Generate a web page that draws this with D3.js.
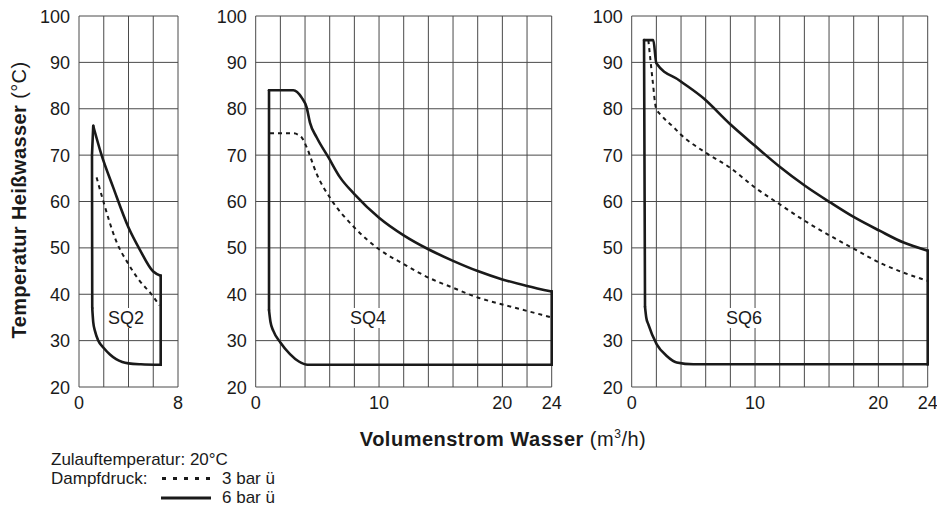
<!DOCTYPE html>
<html>
<head>
<meta charset="utf-8">
<script src="https://cdn.jsdelivr.net/npm/d3@7"></script>
<style>
  body { margin: 0; background: #fff; }
  svg { display: block; font-family: "Liberation Sans", Arial, sans-serif; }
</style>
</head>
<body>
<div id="chart"></div>
<script>
// panel names and axis ranges
var panelNames = ["SQ2", "SQ4", "SQ6"];
var xMax = [8, 24, 24];
var xTickLabels = [[0, 8], [0, 10, 20, 24], [0, 10, 20, 24]];
var yTickLabels = [20, 30, 40, 50, 60, 70, 80, 90, 100];

// left edge of the working range (straight), [m3/h, °C]
var sq2Left = [[1.15, 76.3], [1.05, 70], [1.07, 37]];
var sq4Left = [[1.08, 84], [1.08, 36.6]];
var sq6Left = [[1.0, 94.8], [1.08, 37.3]];

// bottom boundary (curve)
var sq2Bottom = [[1.07, 37], [1.15, 34], [1.3, 32], [1.56, 30], [2.0, 28.4], [2.5, 27], [3.0, 26], [3.5, 25.4], [4.0, 25.1], [5.0, 24.9], [6.6, 24.8]];
var sq4Bottom = [[1.08, 36.6], [1.2, 34], [1.43, 32.1], [2.0, 29.6], [2.78, 27.1], [3.5, 25.5], [4.2, 24.8], [24, 24.8]];
var sq6Bottom = [[1.08, 37.3], [1.18, 35], [1.35, 33.5], [2.03, 29.2], [2.84, 26.7], [3.65, 25.3], [5.0, 24.9], [24, 24.9]];

// 6 bar ü (upper boundary)
var sq2Bar6 = [[1.15, 76.3], [1.8, 70.2], [2.77, 63], [4.0, 54.4], [4.9, 49.7], [6.0, 44.9], [6.6, 44]];
var sq4Bar6 = [[1.08, 84], [3.05, 84], [3.73, 82.4], [4.13, 80.3], [4.4, 77], [4.95, 73.8], [5.9, 69.5], [6.84, 65.2], [8, 61.6], [10, 56.5], [12, 52.7], [14, 49.7], [16, 47.2], [18, 45], [20, 43.2], [22, 41.8], [24, 40.6]];
var sq6Bar6 = [[1.0, 94.8], [1.75, 94.8], [2.0, 89.8], [3.9, 86.05], [5.8, 82.3], [7.97, 76.7], [10, 72.0], [12, 67.5], [14.05, 63.4], [16.1, 59.8], [18.1, 56.5], [20.1, 53.7], [22, 51.2], [24, 49.4]];

// 3 bar ü (dashed)
var sq2Bar3 = [[1.42, 65.2], [1.96, 60.1], [3.0, 51.5], [4.0, 46.5], [4.9, 42.9], [5.85, 40], [6.5, 37.6]];
var sq4Bar3 = [[1.16, 74.7], [3.05, 74.7], [3.73, 73.8], [4.13, 71.7], [4.95, 65.9], [6.0, 60.9], [8, 54.4], [10, 49.7], [12, 46.5], [14, 43.6], [16, 41.4], [18, 39.3], [20, 37.8], [22, 36.4], [24, 35.0]];
var sq6Bar3 = [[1.35, 94.8], [1.5, 91], [1.7, 86], [1.97, 80.2], [2.43, 78.5], [3.37, 76.1], [3.92, 74.6], [5.95, 70.6], [7.97, 67.3], [10, 63.0], [12, 59.4], [14.05, 55.8], [16.1, 52.6], [18.1, 49.7], [20.1, 46.8], [22, 44.7], [24, 42.9]];

var lefts = [sq2Left, sq4Left, sq6Left];
var bottoms = [sq2Bottom, sq4Bottom, sq6Bottom];
var bar6s = [sq2Bar6, sq4Bar6, sq6Bar6];
var bar3s = [sq2Bar3, sq4Bar3, sq6Bar3];

var width = 937, height = 506;
var plotTop = 16, plotBottom = 387;
var panelLeft = [79, 255.7, 631.7];
var panelRight = [178, 551.7, 927.7];
var gridColor = "#4a4a4a";
var ink = "#1a1a1a";

var svg = d3.select("#chart").append("svg")
  .attr("width", width)
  .attr("height", height);

var y = d3.scaleLinear().domain([20, 100]).range([plotBottom, plotTop]);

panelNames.forEach(function(name, i) {
  var x = d3.scaleLinear().domain([0, xMax[i]]).range([panelLeft[i], panelRight[i]]);
  var g = svg.append("g");

  // grid
  var xGrid = d3.range(0, xMax[i] + 1, 2);
  g.selectAll(".vx").data(xGrid).enter().append("line")
    .attr("x1", d => x(d)).attr("x2", d => x(d))
    .attr("y1", plotTop).attr("y2", plotBottom)
    .attr("stroke", gridColor).attr("stroke-width", 1);
  g.selectAll(".hy").data(yTickLabels).enter().append("line")
    .attr("x1", panelLeft[i]).attr("x2", panelRight[i])
    .attr("y1", d => y(d)).attr("y2", d => y(d))
    .attr("stroke", gridColor).attr("stroke-width", 1);

  // tick labels
  g.selectAll(".yl").data(yTickLabels).enter().append("text")
    .attr("x", panelLeft[i] - 9).attr("y", d => y(d) + 6.5)
    .attr("text-anchor", "end").attr("font-size", 18).attr("fill", ink)
    .text(d => d);
  g.selectAll(".xl").data(xTickLabels[i]).enter().append("text")
    .attr("x", d => x(d)).attr("y", 409)
    .attr("text-anchor", "middle").attr("font-size", 18).attr("fill", ink)
    .text(d => d);

  // panel label with white background
  var lx = x(xMax[i] == 8 ? 3.8 : 9.1);
  var lab = g.append("text")
    .attr("x", lx).attr("y", 324)
    .attr("text-anchor", "middle").attr("font-size", 18).attr("fill", ink)
    .text(name);
  var bb = lab.node().getBBox();
  g.insert("rect", "text")
    .attr("x", bb.x - 2).attr("y", bb.y).attr("width", bb.width + 4).attr("height", bb.height)
    .attr("fill", "#fff");

  var curve = d3.line().x(d => x(d[0])).y(d => y(d[1])).curve(d3.curveMonotoneX);
  var straight = d3.line().x(d => x(d[0])).y(d => y(d[1]));

  var bot = bottoms[i], up = bar6s[i];
  g.append("path").attr("d", straight(lefts[i]))
    .attr("fill", "none").attr("stroke", ink).attr("stroke-width", 2.6)
    .attr("stroke-linejoin", "round").attr("stroke-linecap", "round");
  g.append("path").attr("d", curve(bot))
    .attr("fill", "none").attr("stroke", ink).attr("stroke-width", 2.6)
    .attr("stroke-linecap", "round");
  g.append("path").attr("d", curve(up))
    .attr("fill", "none").attr("stroke", ink).attr("stroke-width", 2.6)
    .attr("stroke-linecap", "round");
  g.append("path").attr("d", straight([bot[bot.length - 1], up[up.length - 1]]))
    .attr("fill", "none").attr("stroke", ink).attr("stroke-width", 2.6)
    .attr("stroke-linecap", "square");
  g.append("path").attr("d", curve(bar3s[i]))
    .attr("fill", "none").attr("stroke", ink).attr("stroke-width", 2)
    .attr("stroke-dasharray", "4,4");
});

// y axis title
var yt = svg.append("text")
  .attr("transform", "translate(26,200) rotate(-90)")
  .attr("text-anchor", "middle").attr("font-size", 20).attr("letter-spacing", 0.4)
  .attr("fill", ink);
yt.append("tspan").attr("font-weight", "bold").text("Temperatur Heißwasser");
yt.append("tspan").text(" (°C)");

// x axis title
var xt = svg.append("text")
  .attr("x", 503).attr("y", 446)
  .attr("text-anchor", "middle").attr("font-size", 20).attr("letter-spacing", 0.5)
  .attr("fill", ink);
xt.append("tspan").attr("font-weight", "bold").text("Volumenstrom Wasser");
xt.append("tspan").text(" (m");
xt.append("tspan").attr("font-size", 12).attr("dy", -8).text("3");
xt.append("tspan").attr("dy", 8).text("/h)");

// legend
svg.append("text").attr("x", 51).attr("y", 465).attr("font-size", 17).attr("fill", ink)
  .text("Zulauftemperatur: 20°C");
svg.append("text").attr("x", 51).attr("y", 484).attr("font-size", 17).attr("fill", ink)
  .text("Dampfdruck:");
svg.append("line").attr("x1", 162).attr("x2", 210).attr("y1", 478.5).attr("y2", 478.5)
  .attr("stroke", ink).attr("stroke-width", 3).attr("stroke-dasharray", "4,7");
svg.append("line").attr("x1", 161).attr("x2", 211).attr("y1", 498).attr("y2", 498)
  .attr("stroke", ink).attr("stroke-width", 3);
svg.append("text").attr("x", 222).attr("y", 484).attr("font-size", 17).attr("fill", ink)
  .text("3 bar ü");
svg.append("text").attr("x", 222).attr("y", 503).attr("font-size", 17).attr("fill", ink)
  .text("6 bar ü");
</script>
</body>
</html>
